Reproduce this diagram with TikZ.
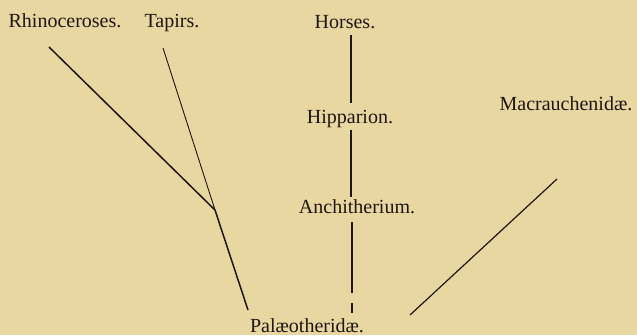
\documentclass[tikz,border=0pt]{standalone}
\usepackage{fontspec}
\setmainfont{Liberation Serif}
\definecolor{paper}{RGB}{233,215,162}
\definecolor{ink}{RGB}{30,22,16}
\begin{document}
\begin{tikzpicture}[x=1pt,y=-1pt,
  lbl/.style={inner sep=0pt,anchor=base,text=ink,font=\fontsize{20}{22}\selectfont},
  thick line/.style={draw=ink,line width=1.5pt},
  thin line/.style={draw=ink,line width=0.9pt}]
\fill[paper] (0,0) rectangle (637,335);
\useasboundingbox (0,0) rectangle (637,335);
% labels
\node[lbl] (rhino) at (65,27) {Rhinoceroses.};
\node[lbl] (tapirs) at (172,27) {Tapirs.};
\node[lbl] (horses) at (345,28) {Horses.};
\node[lbl] (hipp) at (350,123) {Hipparion.};
\node[lbl] (anchi) at (357,213) {Anchitherium.};
\node[lbl] (macra) at (566,110) {Macrauchenidæ.};
\node[lbl] (palaeo) at (307,332) {Palæotheridæ.};
% coordinates
\coordinate (rhinoEnd) at (49,47);
\coordinate (tapEnd) at (163,48);
\coordinate (junction) at (215,210);
\coordinate (tapBottom) at (248,310);
\coordinate (hA) at (351,35);
\coordinate (hB) at (351,103);
\coordinate (hC) at (351,130);
\coordinate (hD) at (351,197);
\coordinate (hE) at (352,222);
\coordinate (hF) at (352,293);
\coordinate (hG) at (352,303);
\coordinate (hH) at (352,313);
\coordinate (mTop) at (557,179);
\coordinate (mBot) at (410,315);
% connectors
\draw[thick line] (rhinoEnd) -- (junction);
\draw[thin line] (tapEnd) -- (junction);
\draw[thick line] (junction) -- (tapBottom);
\draw[thick line] (hA) -- (hB);
\draw[thick line] (hC) -- (hD);
\draw[thick line] (hE) -- (hF);
\draw[thick line] (hG) -- (hH);
\draw[thin line,line width=1.2pt] (mTop) -- (mBot);
\end{tikzpicture}
\end{document}
